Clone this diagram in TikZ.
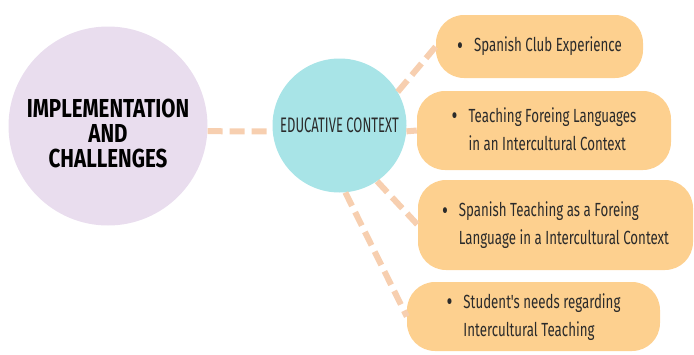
\documentclass[tikz,border=0pt]{standalone}
\usepackage{fontspec}
\setmainfont{Fira Sans}
\newfontfamily\headfont[FakeStretch=0.79]{Fira Sans}
\newfontfamily\edufont[FakeStretch=0.62]{Fira Sans}
\newfontfamily\itemfont[FakeStretch=0.7]{Fira Sans}
\usetikzlibrary{positioning}
\definecolor{lilac}{HTML}{E9DDEE}
\definecolor{aqua}{HTML}{A8E4E7}
\definecolor{apricot}{HTML}{FDD08F}
\definecolor{peach}{HTML}{F7CFB0}
\definecolor{ink}{HTML}{2B2B2B}
\tikzstyle{blob}=[circle,inner sep=0pt,align=center]
\tikzstyle{pill}=[rounded corners=28pt,fill=apricot,inner sep=0pt,text=ink,
  font=\itemfont\fontsize{19}{28}\selectfont]
\tikzstyle{link}=[draw=peach,line width=6pt,dash pattern=on 15pt off 7pt]
\newcommand{\bdot}{\raisebox{-2.5pt}{\fontsize{26}{26}\selectfont\textbullet}}
\newcommand{\itm}[2]{\begin{tabular}{@{}l@{\hspace{11pt}}l@{}}\bdot & #1\\ & #2\end{tabular}}

\begin{document}
\begin{tikzpicture}[x=1pt,y=-1pt]
\useasboundingbox (0,0) rectangle (694,354);
\node[blob,fill=lilac,minimum size=199pt] (I) at (108,126) {};
\node[align=center,font=\headfont\bfseries\fontsize{26}{25}\selectfont]
  (IT) at (108,133) {IMPLEMENTATION\\AND\\CHALLENGES};
\node[blob,fill=aqua,minimum size=134pt,text=ink,
  font=\edufont\fontsize{21}{22}\selectfont] (E) at (339.5,125.5) {EDUCATIVE CONTEXT};
\node[pill,minimum width=207pt,minimum height=63pt] (B1) at (539.5,46.5)
  {\bdot\hspace{11pt}Spanish Club Experience};
\node[pill,minimum width=254pt,minimum height=79pt] (B2) at (544,130.5)
  {\itm{Teaching Foreing Languages}{in an Intercultural Context}};
\node[pill,minimum width=275pt,minimum height=90pt] (B3) at (555.5,225)
  {\itm{Spanish Teaching as a Foreing}{Language in a Intercultural Context}};
\node[pill,minimum width=253pt,minimum height=69pt] (B4) at (533.5,316.5)
  {\itm{Student's needs regarding}{Intercultural Teaching}};
\path[link]
(I.357) edge (E.185)
(E.30) edge (B1.west)
(E.355) edge (B2.west)
(E.-56) edge (B3.west)
(E.-85) edge (B4.west);
\end{tikzpicture}
\end{document}
